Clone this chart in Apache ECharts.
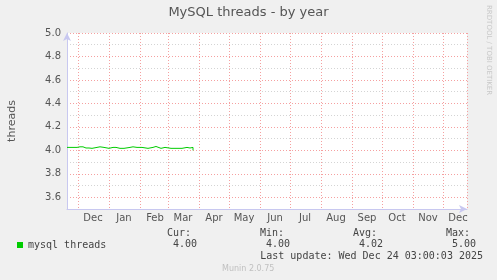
<!DOCTYPE html>
<html><head><meta charset="utf-8">
<script src="https://cdn.jsdelivr.net/npm/echarts@6/dist/echarts.min.js"></script>
<style>html,body{margin:0;padding:0;background:#f0f0f0;}#c{width:497px;height:280px;}</style>
</head><body><div id="c"></div>
<script>
const titleText = 'MySQL threads - by year';
const seriesName = 'mysql threads';
const dates = ['2024-11-20','2024-11-25','2024-11-30','2024-12-03','2024-12-06','2024-12-09','2024-12-12','2024-12-15','2024-12-17','2024-12-20','2024-12-21','2024-12-23','2024-12-27','2024-12-29','2025-01-01','2025-01-03','2025-01-05','2025-01-06','2025-01-08','2025-01-12','2025-01-16','2025-01-18','2025-01-22','2025-01-24','2025-01-25','2025-01-27','2025-01-29','2025-01-31','2025-02-03','2025-02-05','2025-02-09','2025-02-11','2025-02-14','2025-02-15','2025-02-17','2025-02-19','2025-02-22','2025-02-24','2025-02-26','2025-02-28','2025-03-04','2025-03-08','2025-03-12','2025-03-15','2025-03-16','2025-03-20','2025-03-21','2025-03-23','2025-03-24','2025-03-25','2025-03-26'];
const values = [4.025,4.025,4.03,4.03,4.02,4.02,4.017,4.017,4.025,4.025,4.03,4.025,4.025,4.017,4.017,4.025,4.017,4.025,4.017,4.017,4.017,4.025,4.025,4.03,4.02,4.025,4.02,4.025,4.025,4.017,4.017,4.025,4.025,4.033,4.033,4.017,4.017,4.025,4.025,4.017,4.017,4.017,4.017,4.017,4.025,4.025,4.02,4.025,4.02,4.025,4.0];
const xStart = '2024-11-20';
const xEnd = '2025-12-25';
const monthNames = ['Jan','Feb','Mar','Apr','May','Jun','Jul','Aug','Sep','Oct','Nov','Dec'];
const yMin = 3.5, yMax = 5.0, yStep = 0.1;
const statLabels = ['Cur:','Min:','Avg:','Max:'];
const statValues = ['4.00','4.00','4.02','5.00'];
const lastUpdate = 'Last update: Wed Dec 24 03:00:03 2025';
const footer = 'Munin 2.0.75';
const sideText = 'RRDTOOL / TOBI OETIKER';

const ts = s => new Date(s + 'T00:00:00').getTime();
const DAY = 86400000;
const statX = [191, 284, 377, 470];
const mono = '"DejaVu Sans Mono", monospace';

const chart = echarts.init(document.getElementById('c'), null, {renderer:'canvas'});
const graphics = [
  {type:'text', left:'center', top:6, style:{text:titleText, font:'13px "DejaVu Sans"', fill:'#555'}},
  {type:'text', x:485, y:5, rotation:-Math.PI/2, style:{text:sideText, font:'7px "DejaVu Sans"', fill:'#c8c8c8', textAlign:'left', textVerticalAlign:'bottom'}},
  {type:'text', x:483, y:256, style:{text:lastUpdate, font:'10px ' + mono, fill:'#444', textAlign:'right', textVerticalAlign:'middle'}},
  {type:'text', x:222, y:269, style:{text:footer, font:'8px "DejaVu Sans"', fill:'#c0c0c0', textAlign:'left', textVerticalAlign:'middle'}}
];
statLabels.forEach((l,i)=>{
  graphics.push({type:'text', x:statX[i], y:233, style:{text:l, font:'10px ' + mono, fill:'#444', textAlign:'right', textVerticalAlign:'middle'}});
  graphics.push({type:'text', x:statX[i]+6, y:244, style:{text:statValues[i], font:'10px ' + mono, fill:'#444', textAlign:'right', textVerticalAlign:'middle'}});
});

chart.setOption({
  backgroundColor:'#f0f0f0',
  animation:false,
  graphic: graphics,
  legend:{left:12, top:235, icon:'rect', itemWidth:6, itemHeight:6, itemGap:10,
    textStyle:{fontFamily:mono, fontSize:10, color:'#444'}, data:[seriesName]},
  grid:{left:67, right:30, top:33, bottom:71, show:true, backgroundColor:'#ffffff', borderWidth:0,
    containLabel:false, outerBoundsMode:'none'},
  xAxis:{type:'time', min:ts(xStart), max:ts(xEnd), minInterval:28*DAY, maxInterval:31*DAY,
    axisLine:{show:true, lineStyle:{color:'#c8c8f0'}, symbol:['none','arrow'], symbolSize:[6,8]},
    axisTick:{show:false},
    splitLine:{show:true, lineStyle:{color:'#f5a0a0', type:[1,2], width:1}},
    axisLabel:{fontFamily:'DejaVu Sans', fontSize:10, color:'#555', margin:4, padding:[0,0,0,30], align:'center',
      showMinLabel:false, showMaxLabel:false,
      formatter:(v)=>monthNames[new Date(v).getMonth()]}
  },
  yAxis:{type:'value', min:yMin, max:yMax, interval:yStep,
    name:'threads', nameLocation:'middle', nameGap:49, nameRotate:90,
    nameTextStyle:{fontFamily:'DejaVu Sans', fontSize:11, color:'#555'},
    axisLine:{show:true, lineStyle:{color:'#c8c8f0'}, symbol:['none','arrow'], symbolSize:[6,8]},
    axisTick:{show:false},
    splitLine:{show:true, lineStyle:{color:['#d4d4d4','#f5a0a0'], type:[1,2], width:1}},
    axisLabel:{fontFamily:'DejaVu Sans', fontSize:10, color:'#555', margin:6,
      formatter:(v)=>{const t=Math.round(v*10); return t%2===0 ? (t/10).toFixed(1) : '';}}
  },
  series:[{name:seriesName, type:'line', showSymbol:false, step:'end',
    lineStyle:{color:'#00cc00', width:1}, itemStyle:{color:'#00cc00'},
    data: dates.map((d,i)=>[ts(d), values[i]])}]
});
</script></body></html>
